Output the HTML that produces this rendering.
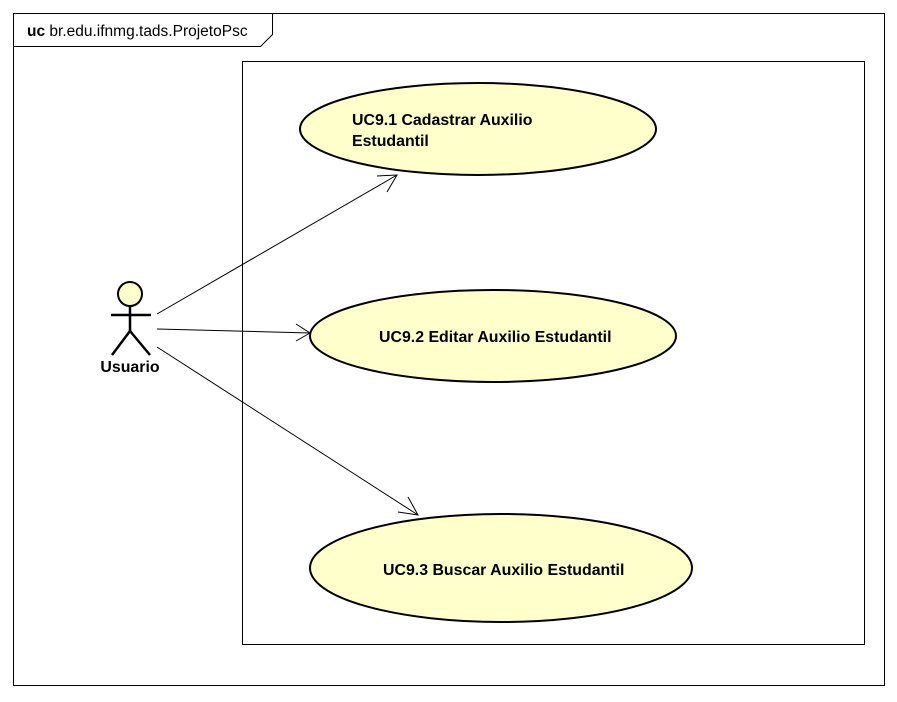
<!DOCTYPE html>
<html><head><style>body{margin:0;background:#fff}</style></head><body>
<svg width="897" height="697" xmlns="http://www.w3.org/2000/svg" font-family="Liberation Sans, sans-serif">
<rect x="13.5" y="13.5" width="871" height="672" fill="#fff" stroke="#000"/>
<path d="M13.5 46.5 H260.5 L272.5 34.5 V13.5" fill="none" stroke="#000"/>
<text x="27" y="36" font-size="15.5"><tspan font-weight="bold">uc</tspan> br.edu.ifnmg.tads.ProjetoPsc</text>
<rect x="242.5" y="61.5" width="622" height="583" fill="#fff" stroke="#000"/>
<g fill="#ffffcc" stroke="#000" stroke-width="2">
<ellipse cx="478" cy="129" rx="178" ry="46"/>
<ellipse cx="493" cy="336" rx="183" ry="46"/>
<ellipse cx="501" cy="568" rx="191" ry="54"/>
</g>
<g font-size="15.9" font-weight="bold">
<text x="352" y="125">UC9.1 Cadastrar Auxilio</text>
<text x="352" y="146">Estudantil</text>
<text x="379" y="342">UC9.2 Editar Auxilio Estudantil</text>
<text x="383" y="575">UC9.3 Buscar Auxilio Estudantil</text>
</g>
<g stroke="#000" fill="none">
<line x1="157" y1="314" x2="397" y2="175"/>
<path d="M377 176 L397 175 L387 192"/>
<line x1="157" y1="329" x2="310" y2="333"/>
<path d="M296 324 L310 333 L296 341"/>
<line x1="157" y1="347" x2="418" y2="515"/>
<path d="M398 512 L418 515 L408 497"/>
</g>
<circle cx="130" cy="294" r="12" fill="#ffffcc" stroke="#000" stroke-width="2"/>
<g stroke="#000" stroke-width="2.5" fill="none">
<line x1="111" y1="315" x2="151" y2="315"/>
<line x1="130" y1="306" x2="130" y2="331"/>
<path d="M112 355 L130 331 L150 355"/>
</g>
<text x="130" y="372" font-size="15.9" font-weight="bold" text-anchor="middle">Usuario</text>
</svg>
</body></html>
